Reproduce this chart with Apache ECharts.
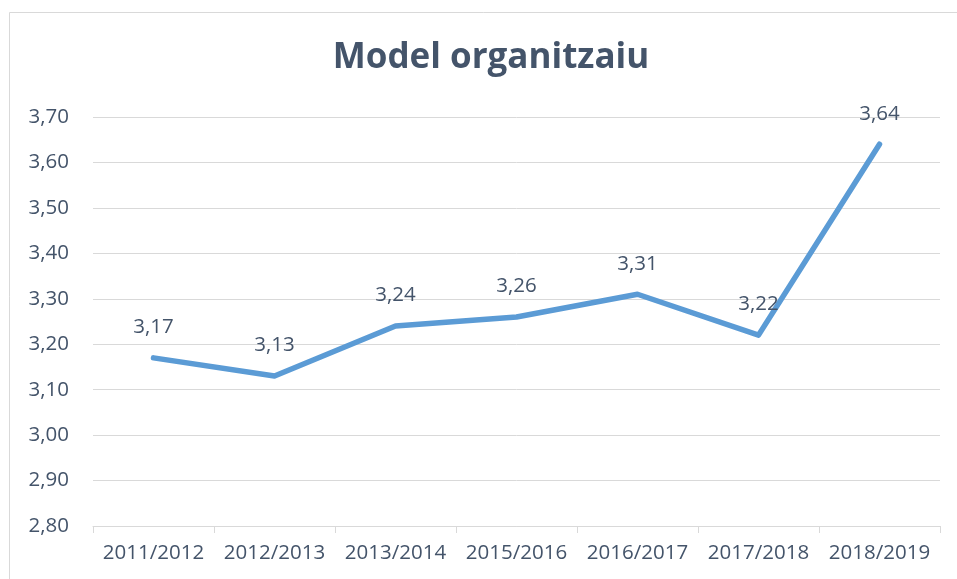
<!DOCTYPE html>
<html>
<head>
<meta charset="utf-8">
<script src="https://cdn.jsdelivr.net/npm/echarts@6/dist/echarts.min.js"></script>
<style>
  html, body { margin: 0; padding: 0; background: #fff; }
  #main { width: 957px; height: 579px; }
</style>
</head>
<body>
<div id="main"></div>
<script>
var categories = ['2011/2012', '2012/2013', '2013/2014', '2015/2016', '2016/2017', '2017/2018', '2018/2019']
var values = [3.17, 3.13, 3.24, 3.26, 3.31, 3.22, 3.64]

var textColor = '#44546a'
var gridColor = '#d9d9d9'
var fmt = function (v) { return Number(v).toFixed(2).replace('.', ',') }

var myChart = echarts.init(document.getElementById('main'))
myChart.setOption({
  animation: false,
  backgroundColor: '#fff',
  title: {
    text: 'Model organitzaiu',
    left: 486,
    textAlign: 'center',
    top: 36,
    textStyle: {
      color: textColor,
      fontFamily: 'Open Sans',
      fontWeight: 'bold',
      fontSize: 35
    }
  },
  graphic: [
    { // chart border
      type: 'rect',
      shape: { x: 9.5, y: 12.5, width: 1000, height: 1000 },
      style: { fill: 'none', stroke: gridColor, lineWidth: 1 },
      silent: true
    }
  ],
  grid: { left: 93, right: 17, top: 117, bottom: 53 },
  xAxis: {
    type: 'category',
    data: categories,
    boundaryGap: true,
    axisLine: { lineStyle: { color: gridColor, width: 1 } },
    axisTick: { show: true, length: 7, lineStyle: { color: gridColor } },
    axisLabel: { interval: 0, color: textColor, fontFamily: 'Open Sans', fontSize: 20.5, margin: 17 }
  },
  yAxis: {
    type: 'value',
    min: 2.8,
    max: 3.7,
    interval: 0.1,
    axisLine: { show: false },
    axisTick: { show: false },
    splitLine: { lineStyle: { color: gridColor, width: 1 } },
    axisLabel: { color: textColor, fontFamily: 'Open Sans', fontSize: 20.5, margin: 24, formatter: fmt }
  },
  series: [
    {
      type: 'line',
      data: values,
      symbol: 'circle',
      symbolSize: 2,
      showSymbol: true,
      itemStyle: { color: '#5b9bd5' },
      lineStyle: { color: '#5b9bd5', width: 5.5, cap: 'round', join: 'round' },
      label: {
        show: true,
        position: 'top',
        distance: 19,
        color: textColor,
        fontFamily: 'Open Sans',
        fontSize: 20.5,
        formatter: function (p) { return fmt(p.value) }
      }
    }
  ]
})
</script>
</body>
</html>
